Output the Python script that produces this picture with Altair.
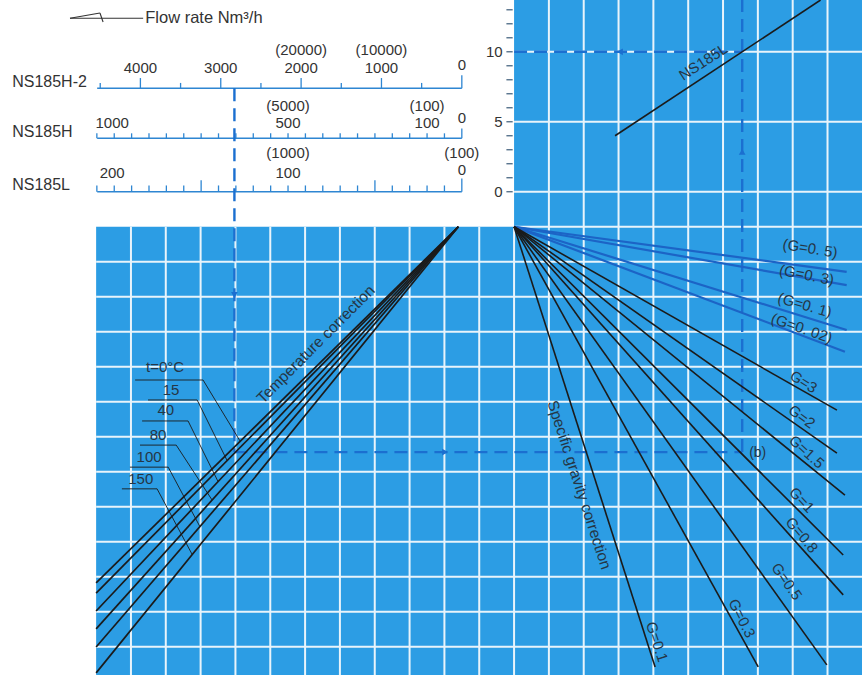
import altair as alt
import pandas as pd

# ================= chart values (nomogram grid units: one grid cell = 1 unit) =================
x_domain = [-14.76, 9.99]
y_domain = [-12.81, 6.48]

# blue panels (lower band, upper-right panel)
panel_x1 = [-12.0, 0.0]
panel_x2 = [9.99, 9.99]
panel_y1 = [-12.81, 0.0]
panel_y2 = [0.0, 6.48]

# white grid lines
grid_vx_lower = [-11, -10, -9, -8, -7, -6, -5, -4, -3, -2, -1, 0]
grid_vx_full = [1, 2, 3, 4, 5, 6, 7, 8, 9]
grid_hy_lower = [-12, -11, -10, -9, -8, -7, -6, -5, -4, -3, -2, -1]
grid_hy_upper = [0, 1, 3, 5]

# flow-rate scales (top left)
scale_names = ["NS185H-2", "NS185H", "NS185L"]
scale_name_y = [4.14, 2.71, 1.19]
scale_axis_y = [3.96, 2.53, 1.0]
scale_unit = [0.0023072, 0.00998, 0.0499]      # grid units per flow unit

h2_ticks = [0, 500, 1000, 1500, 2000, 2500, 3000, 3500, 4000, 4500]
h2_labels = ["0", "1000", "2000", "3000", "4000"]
h2_label_vals = [0, 1000, 2000, 3000, 4000]
h2_paren = ["(10000)", "(20000)"]
h2_paren_vals = [1000, 2000]

h_ticks = [0, 50, 100, 150, 200, 250, 300, 350, 400, 450, 500, 550,
           600, 650, 700, 750, 800, 850, 900, 950, 1000, 1050]
h_labels = ["0", "100", "500", "1000"]
h_label_vals = [0, 100, 500, 1000]
h_paren = ["(100)", "(5000)"]
h_paren_vals = [100, 500]

l_ticks = [0, 10, 20, 30, 40, 50, 60, 70, 80, 90, 100, 110,
           120, 130, 140, 150, 160, 170, 180, 190, 200, 210]
l_labels = ["0", "100", "200"]
l_label_vals = [0, 100, 200]
l_paren = ["(100)", "(1000)"]
l_paren_vals = [0, 100]

# pressure scale of the upper-right panel
dp_ticks = [0, 1, 2, 3, 4, 5, 6, 7, 8, 9, 10, 11, 12, 13]
dp_labels = ["0", "5", "10"]
dp_label_vals = [0, 5, 10]

# NS185L characteristic line (x grid units, pressure value)
ns185l_x = [2.90, 8.80]
ns185l_v = [4.0, 13.7]

# temperature correction lines
temp_labels = ["t=0°C", "15", "40", "80", "100", "150"]
temp_top_x = -1.6
temp_top_y = 0.0
temp_end_x = -12.0
temp_end_y = [-10.18, -10.47, -10.98, -11.49, -12.01, -12.75]
temp_ul_x1 = [-10.88, -10.51, -10.68, -10.74, -11.03, -11.26]
temp_ul_x2 = [-8.93, -9.10, -9.36, -9.70, -9.93, -10.25]
temp_ul_y = [-4.38, -4.95, -5.55, -6.24, -6.87, -7.49]
temp_ld_x = [-7.87, -8.24, -8.50, -8.67, -9.02, -9.24]
temp_ld_y = [-6.12, -6.68, -7.28, -7.81, -8.57, -9.37]
temp_lab_x = [-10.02, -9.85, -10.00, -10.22, -10.48, -10.72]
temp_lab_y = [-4.01, -4.67, -5.24, -5.95, -6.58, -7.21]

# specific gravity correction lines
grav_labels = ["(G=0. 5)", "(G=0. 3)", "(G=0. 1)", "(G=0. 02)", "G=3", "G=2",
               "G=1.5", "G=1", "G=0.8", "G=0.5", "G=0.3", "G=0.1"]
grav_kind = ["blue", "blue", "blue", "blue", "black", "black",
             "black", "black", "black", "black", "black", "black"]
grav_end_x = [9.55, 9.55, 9.55, 9.50, 9.27, 9.27, 9.50, 9.45, 9.45, 8.98, 7.01, 4.05]
grav_end_y = [-1.29, -1.67, -2.95, -3.57, -5.24, -6.47, -7.67, -9.38, -10.52, -12.52, -12.58, -12.58]
grav_lab_x = [8.50, 8.40, 8.35, 8.26, 8.31, 8.26, 8.40, 8.26, 8.26, 7.83, 6.54, 4.10]
grav_lab_y = [-0.62, -1.38, -2.24, -2.90, -4.43, -5.43, -6.43, -7.81, -8.81, -10.14, -11.19, -11.86]
grav_lab_angle = [9, 11, 16, 19, 32, 36, 42, 47, 50, 55, 63, 72]

# example reading path
read_flow_h2 = 2830
read_dp = 10
read_b_x = 6.55
read_b_y = -6.44

# ================= styling =================
BLUE = "#2c9de4"
GRID = "#e8f4fb"
SCALE = "#2e86d2"
DASH = "#1b6fd0"
GBLUE = "#1c64c6"
INK = "#1b1b1b"
TXT = "#333333"
TXT_B = "#253646"
FONT = "Liberation Sans"
ZERO_X = -1.5


def flow_x(v, k):
    return ZERO_X - v * k


def dp_y(v):
    return 1.0 + 0.4 * v


xs = alt.Scale(domain=x_domain, nice=False, zero=False)
ys = alt.Scale(domain=y_domain, nice=False, zero=False)


def seg(rows, x, y, x2, y2, color, w):
    rows.append(dict(x=x, y=y, x2=x2, y2=y2, color=color, w=w))


def rules(rows, dash=None):
    kw = {"strokeCap": "butt"}
    if dash:
        kw["strokeDash"] = dash
    return alt.Chart(pd.DataFrame(rows)).mark_rule(**kw).encode(
        x=alt.X("x:Q", scale=xs, axis=None),
        x2="x2:Q",
        y=alt.Y("y:Q", scale=ys, axis=None),
        y2="y2:Q",
        color=alt.Color("color:N", scale=None),
        strokeWidth=alt.StrokeWidth("w:Q", scale=None),
    )


def lab(rows, text, x, y, color, size, angle=0):
    rows.append(dict(text=text, x=x, y=y, color=color, size=size, angle=angle % 360))


def texts(rows, align="center"):
    return alt.Chart(pd.DataFrame(rows)).mark_text(align=align, baseline="middle", font=FONT).encode(
        x=alt.X("x:Q", scale=xs, axis=None),
        y=alt.Y("y:Q", scale=ys, axis=None),
        text="text:N",
        angle=alt.Angle("angle:Q", scale=None),
        color=alt.Color("color:N", scale=None),
        size=alt.Size("size:Q", scale=None),
    )


# panels
panels = pd.DataFrame(dict(x=panel_x1, x2=panel_x2, y=panel_y1, y2=panel_y2))
panel_layer = alt.Chart(panels).mark_rect(color=BLUE).encode(
    x=alt.X("x:Q", scale=xs, axis=None), x2="x2:Q",
    y=alt.Y("y:Q", scale=ys, axis=None), y2="y2:Q")

# grid
grid = []
for gx in grid_vx_lower:
    seg(grid, gx, y_domain[0], gx, 0, GRID, 2)
for gx in grid_vx_full:
    seg(grid, gx, y_domain[0], gx, y_domain[1], GRID, 2)
for gy in grid_hy_lower:
    seg(grid, -12, gy, x_domain[1], gy, GRID, 2)
for gy in grid_hy_upper:
    seg(grid, 0, gy, x_domain[1], gy, GRID, 2)

# flow scales
scale_rows = []
all_ticks = [h2_ticks, h_ticks, l_ticks]
for i, ticks in enumerate(all_ticks):
    k = scale_unit[i]
    ay = scale_axis_y[i]
    seg(scale_rows, -11.97, ay, ZERO_X, ay, SCALE, 1.6)
    for v in ticks:
        if i == 0:
            h = 0.37 if v == 0 else (0.29 if v % 1000 == 0 else 0.15)
        elif i == 1:
            h = 0.28 if v == 0 else 0.14
        else:
            h = 0.38 if v == 0 else (0.33 if v in (50, 150) else 0.18)
        seg(scale_rows, flow_x(v, k), ay, flow_x(v, k), ay + h, SCALE, 1.3)

# pressure ticks
for v in dp_ticks:
    seg(scale_rows, -0.22, dp_y(v), -0.04, dp_y(v), "#3a5a78", 1.2)

# lines: temperature
black = []
for i in range(len(temp_labels)):
    seg(black, temp_top_x, temp_top_y, temp_end_x, temp_end_y[i], INK, 1.7)
# gravity
blue_lines = []
for i in range(len(grav_labels)):
    if grav_kind[i] == "blue":
        seg(blue_lines, 0, 0, grav_end_x[i], grav_end_y[i], GBLUE, 2.2)
    else:
        seg(black, 0, 0, grav_end_x[i], grav_end_y[i], INK, 1.6)
# NS185L characteristic
seg(black, ns185l_x[0], dp_y(ns185l_v[0]), ns185l_x[1], dp_y(ns185l_v[1]), INK, 1.6)

# leader lines
leaders = []
for i in range(len(temp_labels)):
    seg(leaders, temp_ul_x1[i], temp_ul_y[i], temp_ul_x2[i], temp_ul_y[i], INK, 0.9)
    seg(leaders, temp_ul_x2[i], temp_ul_y[i], temp_ld_x[i], temp_ld_y[i], INK, 0.9)
# header arrow
seg(leaders, -12.75, 5.96, -10.65, 5.96, TXT, 1.1)
seg(leaders, -12.75, 5.96, -11.89, 6.11, TXT, 1.1)
seg(leaders, -11.89, 6.11, -11.80, 5.85, TXT, 1.1)

# dashed reading path
fx = flow_x(read_flow_h2, scale_unit[0])
dashed = []
seg(dashed, fx, scale_axis_y[0], fx, read_b_y, DASH, 2.4)
seg(dashed, fx, read_b_y, read_b_x, read_b_y, DASH, 2.4)
seg(dashed, read_b_x, read_b_y, read_b_x, y_domain[1], DASH, 2.4)
seg(dashed, 0, dp_y(read_dp), read_b_x, dp_y(read_dp), DASH, 2.4)

arrows = pd.DataFrame(dict(
    x=[fx, -1.98, read_b_x, 3.04],
    y=[-1.95, read_b_y, 2.14, dp_y(read_dp)],
    shape=["triangle-down", "triangle-right", "triangle-up", "triangle-left"],
))
arrow_layer = alt.Chart(arrows).mark_point(filled=True, opacity=1, color=DASH, size=45).encode(
    x=alt.X("x:Q", scale=xs, axis=None),
    y=alt.Y("y:Q", scale=ys, axis=None),
    shape=alt.Shape("shape:N", scale=None),
)

# texts
ctr = []
for t, v in zip(h2_labels, h2_label_vals):
    lab(ctr, t, flow_x(v, scale_unit[0]), 4.53 + (0.09 if v == 0 else 0), TXT, 15)
for t, v in zip(h2_paren, h2_paren_vals):
    lab(ctr, t, flow_x(v, scale_unit[0]), 5.05, TXT, 15)
for t, v in zip(h_labels, h_label_vals):
    lab(ctr, t, flow_x(v, scale_unit[1]) - (0.06 if v == 1000 else 0), 2.97 + (0.15 if v == 0 else 0), TXT, 15)
for t, v in zip(h_paren, h_paren_vals):
    lab(ctr, t, flow_x(v, scale_unit[1]), 3.45, TXT, 15)
for t, v in zip(l_labels, l_label_vals):
    lab(ctr, t, flow_x(v, scale_unit[2]) - (0.06 if v == 200 else 0), 1.54 + (0.08 if v == 0 else 0), TXT, 15)
for t, v in zip(l_paren, l_paren_vals):
    lab(ctr, t, flow_x(v, scale_unit[2]), 2.11, TXT, 15)
for i, t in enumerate(temp_labels):
    lab(ctr, t, temp_lab_x[i], temp_lab_y[i], TXT_B, 15)
for i, t in enumerate(grav_labels):
    lab(ctr, t, grav_lab_x[i], grav_lab_y[i], TXT_B, 15, grav_lab_angle[i])
lab(ctr, "Temperature correction", -5.69, -3.36, TXT_B, 15.5, -45)
lab(ctr, "Specific gravity correction", 1.87, -7.38, TXT_B, 15.5, 72)
lab(ctr, "NS185L", 5.43, 4.71, TXT_B, 15, -33)

left = []
for i, n in enumerate(scale_names):
    lab(left, n, -14.41, scale_name_y[i], TXT, 16)
lab(left, "Flow rate Nm³/h", -10.59, 5.96, TXT, 16.5)
lab(left, "(b)", 6.75, -6.47, TXT_B, 14)

right = []
for t, v in zip(dp_labels, dp_label_vals):
    lab(right, t, -0.33, dp_y(v), TXT, 15)

chart = alt.layer(
    panel_layer,
    rules(grid),
    rules(scale_rows),
    rules(dashed, dash=[13, 7]),
    rules(blue_lines),
    rules(black),
    rules(leaders),
    arrow_layer,
    texts(ctr, "center"),
    texts(left, "left"),
    texts(right, "right"),
).properties(
    width=862, height=675, padding=0,
    autosize=alt.AutoSizeParams(type="none"),
    background="white",
).configure_view(stroke=None)

chart.save("out.html", embed_options={"renderer": "svg", "actions": False})
